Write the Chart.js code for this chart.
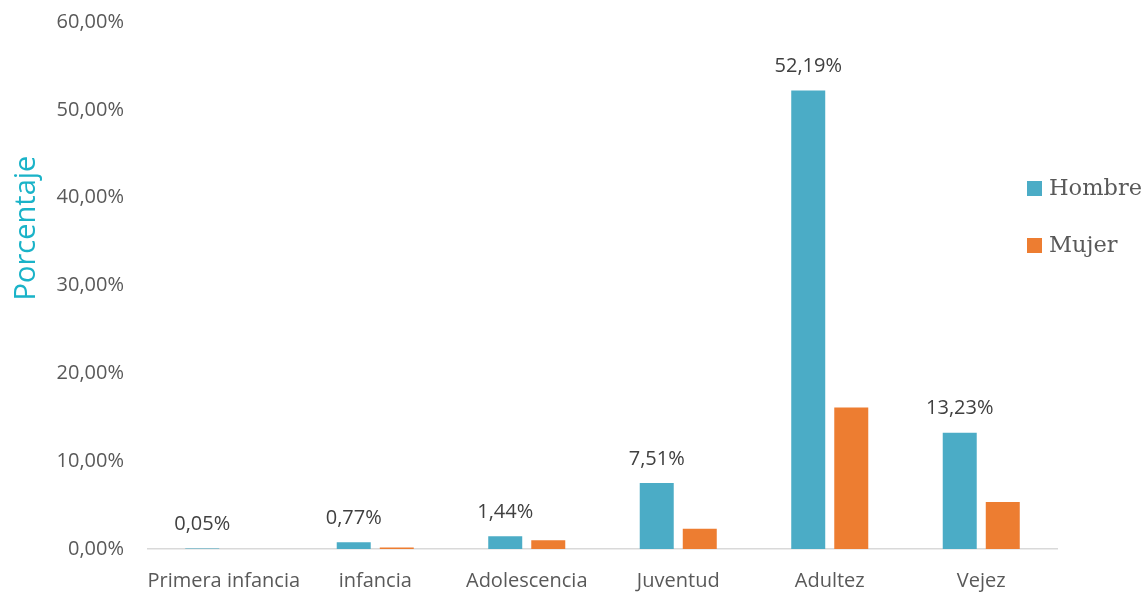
<!DOCTYPE html>
<html>
<head>
<meta charset="utf-8">
<script src="https://cdn.jsdelivr.net/npm/chart.js@4/dist/chart.umd.min.js"></script>
<style>
  html, body { margin: 0; padding: 0; background: #fff; }
</style>
</head>
<body>
<canvas id="barGraph" width="1148" height="593"></canvas>
<script>
var etapas = ['Primera infancia', 'infancia', 'Adolescencia', 'Juventud', 'Adultez', 'Vejez'];
var hombre = [0.05, 0.77, 1.44, 7.51, 52.19, 13.23];
var mujer = [0.0, 0.18, 1.0, 2.3, 16.1, 5.35];
var yTicks = [0, 10, 20, 30, 40, 50, 60];

var fuente = '"Open Sans", "Noto Sans", sans-serif';

function porcentaje(v) {
    return v.toFixed(2).replace('.', ',') + '%';
}

// valores encima de las barras de Hombre + leyenda + titulo del eje
var extras = {
    id: 'extras',
    afterDatasetsDraw: function(chart) {
        var ctx = chart.ctx;
        var meta = chart.getDatasetMeta(0);
        ctx.save();
        ctx.font = '20px ' + fuente;
        ctx.fillStyle = '#404040';
        ctx.textAlign = 'center';
        ctx.textBaseline = 'middle';
        meta.data.forEach(function(bar, i) {
            ctx.fillText(porcentaje(hombre[i]), bar.x, bar.y - 24);
        });

        // leyenda
        ctx.textAlign = 'left';
        ctx.font = '22.5px "DejaVu Serif", serif';
        var filas = [188, 245];
        chart.data.datasets.forEach(function(ds, i) {
            ctx.fillStyle = ds.backgroundColor;
            ctx.fillRect(1027, filas[i] - 7, 15, 15);
            ctx.fillStyle = '#595959';
            ctx.fillText(ds.label, 1049, filas[i] + 1);
        });

        // titulo eje Y
        ctx.translate(27, 228);
        ctx.rotate(-Math.PI / 2);
        ctx.textAlign = 'center';
        ctx.font = '29px ' + fuente;
        ctx.fillStyle = '#1ab3c8';
        ctx.fillText('Porcentaje', 0, 0);
        ctx.restore();
    }
};

var ctx = document.getElementById('barGraph').getContext('2d');
var chart = new Chart(ctx, {
    type: 'bar',
    data: {
        labels: etapas,
        datasets: [{
            label: 'Hombre',
            data: hombre,
            backgroundColor: '#4bacc6'
        }, {
            label: 'Mujer',
            data: mujer,
            backgroundColor: '#ed7d31'
        }]
    },
    options: {
        responsive: false,
        animation: false,
        categoryPercentage: 0.568,
        barPercentage: 0.79,
        layout: {
            padding: { top: 22, right: 91, bottom: 1, left: 0 }
        },
        plugins: {
            legend: { display: false },
            tooltip: { enabled: false }
        },
        scales: {
            x: {
                grid: { display: false, drawTicks: false },
                border: { display: true, color: '#d9d9d9', width: 1.5 },
                afterFit: function(scale) {
                    scale.height = 43;
                },
                ticks: {
                    padding: 20,
                    maxRotation: 0,
                    minRotation: 0,
                    autoSkip: false,
                    color: '#595959',
                    font: { family: fuente, size: 20 }
                }
            },
            y: {
                min: 0,
                max: 60,
                grid: { display: false, drawTicks: false },
                border: { display: false },
                afterBuildTicks: function(scale) {
                    scale.ticks = yTicks.map(function(v) { return { value: v }; });
                },
                afterFit: function(scale) {
                    scale.width = 148;
                    scale.paddingTop = 0;
                    scale.paddingBottom = 0;
                },
                ticks: {
                    padding: 24,
                    color: '#595959',
                    font: { family: fuente, size: 20 },
                    callback: function(value) {
                        return porcentaje(value);
                    }
                }
            }
        }
    },
    plugins: [extras]
});
</script>
</body>
</html>
